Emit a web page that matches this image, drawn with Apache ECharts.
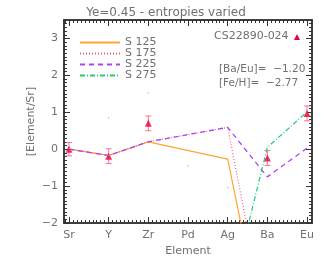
<!DOCTYPE html>
<html>
<head>
<meta charset="utf-8">
<script src="https://cdn.jsdelivr.net/npm/echarts@6/dist/echarts.min.js"></script>
<style>html,body{margin:0;padding:0;background:#fff}#c{width:332px;height:266px}</style>
</head>
<body>
<div id="c"></div>
<script>
const elements = ['Sr','Y','Zr','Pd','Ag','Ba','Eu'];
const s125 = [0, -0.17, 0.2, null, -0.27, -5.5, null];
const s175 = [0, -0.17, 0.2, null, 0.59, -4.9, null];
const s225 = [0, -0.17, 0.2, null, 0.59, -0.75, 0.03];
const s275 = [null, null, null, null, -4.3, 0.05, 1.01];
const obsIdx = [0, 1, 2, 5, 6];
const obsVal = [0.0, -0.19, 0.7, -0.24, 0.97];
const obsErr = [0.18, 0.2, 0.2, 0.2, 0.2];
const strayIdx = [1, 2, 3, 4];
const strayVal = [0.85, 1.52, -0.45, -1.04];
const yMajor = [-2, -1, 0, 1, 2, 3];
const starName = 'CS22890-024';
const baEu = '[Ba/Eu]=  \u22121.20';
const feH = '[Fe/H]=  \u22122.77';

const X0 = -0.125, X1 = 6.125, Y0 = -2, Y1 = 3.5;
const xMajor = elements.map((e, i) => i);
const xMinor = [], yMinor = [];
for (let k = -1; k <= 61; k++) { const v = k / 10; if (v > X0 && v < X1 && k % 10 !== 0) xMinor.push(v); }
for (let k = -20; k <= 35; k++) { const v = k / 10; if (k % 10 !== 0) yMinor.push(v); }

const FONT = 'DejaVu Sans';
const TXT = '#707070';
const AX = '#333';
const toXY = arr => arr.map((v, i) => v == null ? null : [i, v]).filter(p => p);

function xAx(grid, pos, ticks, len, label, name) {
  return {
    type: 'value', gridIndex: grid, position: pos, min: X0, max: X1,
    name: name || '', nameLocation: 'middle', nameGap: 22,
    nameTextStyle: {color: TXT, fontFamily: FONT, fontSize: 11},
    axisLine: {show: true, onZero: false, lineStyle: {color: AX, width: 1.5}},
    axisTick: {show: true, inside: true, length: len, customValues: ticks, lineStyle: {color: AX, width: 1}},
    axisLabel: label ? {show: true, customValues: xMajor, margin: 7, color: TXT, fontFamily: FONT, fontSize: 11,
      formatter: v => elements[Math.round(v)]} : {show: false},
    splitLine: {show: false}
  };
}
function yAx(grid, pos, ticks, len, label, name) {
  return {
    type: 'value', gridIndex: grid, position: pos, min: Y0, max: Y1,
    name: name || '', nameLocation: 'middle', nameGap: 27, nameMoveOverlap: false,
    nameTextStyle: {color: TXT, fontFamily: FONT, fontSize: 11},
    axisLine: {show: true, onZero: false, lineStyle: {color: AX, width: 1.5}},
    axisTick: {show: true, inside: true, length: len, customValues: ticks, lineStyle: {color: AX, width: 1}},
    axisLabel: label ? {show: true, customValues: yMajor, margin: 6, color: TXT, fontFamily: FONT, fontSize: 11,
      formatter: v => (v < 0 ? '\u2212' + Math.abs(v) : String(v))} : {show: false},
    splitLine: {show: false}
  };
}

const g = {left: 64, right: 20, top: 20, bottom: 43};
const chart = echarts.init(document.getElementById('c'), null, {renderer: 'canvas'});
chart.setOption({
  animation: false,
  backgroundColor: '#fff',
  title: {text: 'Ye=0.45 - entropies varied', left: 'center', top: 2,
    textStyle: {color: TXT, fontFamily: FONT, fontSize: 12, fontWeight: 'normal'}},
  grid: [Object.assign({}, g), Object.assign({}, g)],
  xAxis: [
    xAx(0, 'bottom', xMajor, 6, true, 'Element'),
    xAx(0, 'top', xMajor, 6, false),
    xAx(1, 'bottom', xMinor, 3, false),
    xAx(1, 'top', xMinor, 3, false)
  ],
  yAxis: [
    yAx(0, 'left', yMajor, 6, true, '[Element/Sr]'),
    yAx(0, 'right', yMajor, 6, false),
    yAx(1, 'left', yMinor, 3, false),
    yAx(1, 'right', yMinor, 3, false)
  ],
  legend: {
    orient: 'vertical', left: 74, top: 32, itemWidth: 40, itemHeight: 10, itemGap: 0,
    itemStyle: {color: 'transparent', borderWidth: 0, opacity: 0},
    textStyle: {color: TXT, fontFamily: FONT, fontSize: 11},
    data: ['S 125', 'S 175', 'S 225', 'S 275']
  },
  graphic: [
    {type: 'text', left: 214, top: 31, style: {text: starName, fill: TXT, font: '11px "DejaVu Sans"'}},
    {type: 'polygon', shape: {points: [[297, 34], [294, 40], [300, 40]]}, style: {fill: '#e8003a'}},
    {type: 'text', left: 219, top: 64, style: {text: baEu, fill: TXT, font: '10.5px "DejaVu Sans"'}},
    {type: 'text', left: 219, top: 78, style: {text: feH, fill: TXT, font: '10.5px "DejaVu Sans"'}}
  ],
  series: [
    {name: 'S 125', type: 'line', data: toXY(s125), symbol: 'none', clip: true,
      lineStyle: {color: '#ffa530', width: 1.2, type: 'solid'}, itemStyle: {color: '#ffa530'}},
    {name: 'S 175', type: 'line', data: toXY(s175), symbol: 'none', clip: true,
      lineStyle: {color: '#ff5a7a', width: 1.2, type: [1, 2]}, itemStyle: {color: '#ff5a7a'}},
    {name: 'S 225', type: 'line', data: toXY(s225), symbol: 'none', clip: true,
      lineStyle: {color: '#b040ff', width: 1.3, type: [5, 4]}, itemStyle: {color: '#b040ff'}},
    {name: 'S 275', type: 'line', data: toXY(s275), symbol: 'none', clip: true,
      lineStyle: {color: '#20cc80', width: 1.2, type: [5, 2, 1, 2]}, itemStyle: {color: '#20cc80'}},
    {name: 'stray', type: 'scatter', data: strayIdx.map((x, i) => [x, strayVal[i]]), symbol: 'circle', symbolSize: 1.5,
      itemStyle: {color: '#aaa'}, silent: true},
    {name: 'err', type: 'custom', data: obsIdx.map((x, i) => [x, obsVal[i], obsErr[i]]),
      renderItem: function (params, api) {
        const x = api.value(0), y = api.value(1), e = api.value(2);
        const t = api.coord([x, y + e]), b = api.coord([x, y - e]);
        const st = {stroke: '#ff7090', lineWidth: 1};
        return {type: 'group', children: [
          {type: 'line', shape: {x1: t[0], y1: t[1], x2: b[0], y2: b[1]}, style: st},
          {type: 'line', shape: {x1: t[0] - 3, y1: t[1], x2: t[0] + 3, y2: t[1]}, style: st},
          {type: 'line', shape: {x1: b[0] - 3, y1: b[1], x2: b[0] + 3, y2: b[1]}, style: st}
        ]};
      }},
    {name: 'obs', type: 'scatter', data: obsIdx.map((x, i) => [x, obsVal[i]]), symbol: 'triangle', symbolSize: [7, 7],
      itemStyle: {color: '#e8003a'}}
  ]
});
</script>
</body>
</html>
